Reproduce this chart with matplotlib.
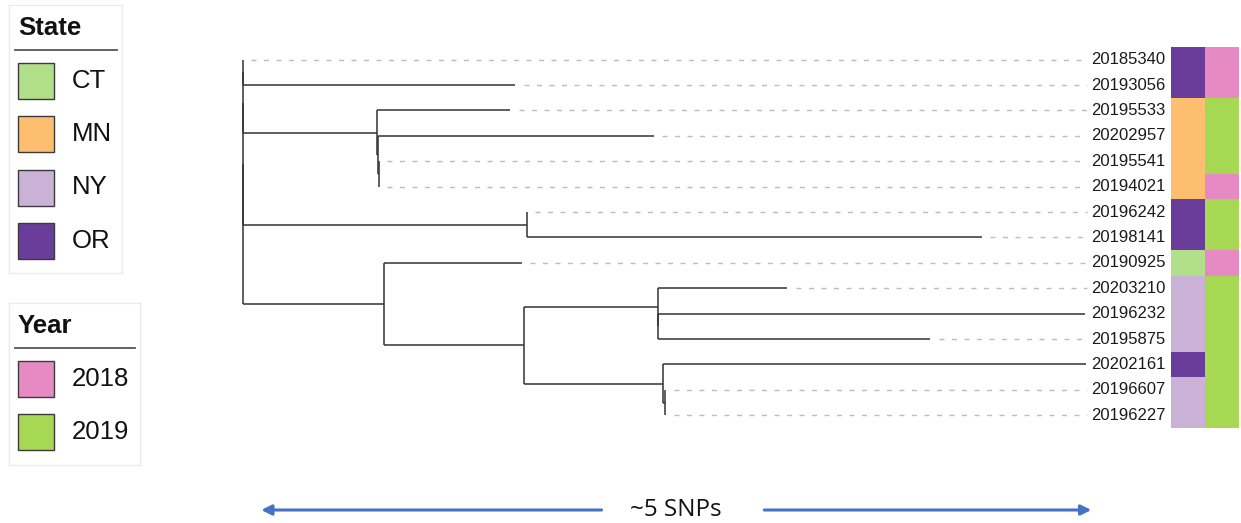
import matplotlib
matplotlib.use("Agg")
import matplotlib.pyplot as plt
from matplotlib.patches import Rectangle
from matplotlib.colors import to_rgb
from matplotlib.transforms import blended_transform_factory
import numpy as np

# tree topology and branch lengths (SNP-ish units)
newick = ("((((20185340:0,20193056:1.64):0,"
          "(20195533:0.80,(20202957:1.66,(20195541:0,20194021:0):0.005):0.005):0.81):0,"
          "(20196242:0,20198141:2.74):1.71):0,"
          "(20190925:0.83,((20203210:0.78,(20196232:2.57,20195875:1.64):0):0.81,"
          "(20202161:2.55,(20196607:0,20196227:0):0.015):0.84):0.84):0.85);")

tips = ["20185340", "20193056", "20195533", "20202957", "20195541",
        "20194021", "20196242", "20198141", "20190925", "20203210",
        "20196232", "20195875", "20202161", "20196607", "20196227"]
state = ["OR", "OR", "MN", "MN", "MN", "MN", "OR", "OR", "CT",
         "NY", "NY", "NY", "OR", "NY", "NY"]
year = ["2018", "2018", "2019", "2019", "2019", "2018", "2019", "2019",
        "2018", "2019", "2019", "2019", "2019", "2019", "2019"]

state_names = ["CT", "MN", "NY", "OR"]
state_colors = ["#b2df8a", "#fdbf6f", "#cab2d6", "#6a3d9a"]
year_names = ["2018", "2019"]
year_colors = ["#e78ac3", "#a6d854"]

scale_snps = 5
scale_start = 0.11

W, H = 1241, 523


def parse(s):
    pos = 0

    def node():
        nonlocal pos
        kids = []
        if s[pos] == "(":
            pos += 1
            while True:
                kids.append(node())
                if s[pos] == ",":
                    pos += 1
                    continue
                pos += 1
                break
        start = pos
        while s[pos] not in ",);":
            pos += 1
        name, _, ln = s[start:pos].partition(":")
        return {"name": name, "len": float(ln or 0), "kids": kids}

    return node()


def layout(nd, px, order):
    nd["px"] = px
    nd["x"] = px + nd["len"]
    if not nd["kids"]:
        nd["y"] = order.index(nd["name"])
    else:
        for k in nd["kids"]:
            layout(k, nd["x"], order)
        nd["y"] = np.mean([k["y"] for k in nd["kids"]])


def walk(nd):
    yield nd
    for k in nd["kids"]:
        yield from walk(k)


def fax(x, y, w, h):
    # pixel box -> figure fraction
    return [x / W, 1 - (y + h) / H, w / W, h / H]


root = parse(newick)
layout(root, 0.0, tips)

fig = plt.figure(figsize=(W / 100, H / 100), dpi=100)

px_per_unit = 166
tree_left, tree_right = 243, 1089
top, bottom = 47, 428
ax = fig.add_axes(fax(tree_left, top, tree_right - tree_left, bottom - top))
xmax = (tree_right - tree_left) / px_per_unit
ax.set_xlim(0, xmax)
ax.set_ylim(len(tips) - 0.5, -0.5)
ax.axis("off")

line_kw = dict(color="#333333", lw=1.1, solid_capstyle="butt", clip_on=False)
dash_end = xmax - 0.015
for nd in walk(root):
    if nd["kids"]:
        ys = [k["y"] for k in nd["kids"]]
        ax.plot([nd["x"], nd["x"]], [min(ys), max(ys)], **line_kw)
    if nd is not root and nd["len"] > 0:
        ax.plot([nd["px"], nd["x"]], [nd["y"], nd["y"]], **line_kw)
    if not nd["kids"]:
        if nd["x"] < dash_end - 0.05:
            ax.plot([nd["x"] + 0.05, dash_end], [nd["y"], nd["y"]],
                    color="#bcbcbc", lw=1.0, ls=(0, (3.6, 5.4)), clip_on=False)
        ax.text(xmax + 0.01, nd["y"], nd["name"], ha="left", va="center",
                fontsize=12, family="Liberation Sans", color="#1a1a1a")

# metadata heatmap
hm = fig.add_axes(fax(1171, top, 68, bottom - top))
smap = dict(zip(state_names, state_colors))
ymap = dict(zip(year_names, year_colors))
img = np.array([[to_rgb(smap[s]), to_rgb(ymap[y])] for s, y in zip(state, year)])
hm.imshow(img, aspect="auto", interpolation="nearest",
          extent=(-0.5, 1.5, len(tips) - 0.5, -0.5))
hm.axis("off")

# scale arrow under the tree
mid = scale_start + scale_snps / 2
ay = (H - 510) / H
btr = blended_transform_factory(ax.transData, fig.transFigure)
arr = dict(arrowstyle="-|>,head_length=0.6,head_width=0.3", color="#4472c4",
           lw=2.2, shrinkA=0, shrinkB=0)
ax.annotate("", xy=(scale_start, ay), xytext=(mid - 0.45, ay),
            xycoords=btr, textcoords=btr, arrowprops=arr)
ax.annotate("", xy=(scale_start + scale_snps, ay), xytext=(mid + 0.53, ay),
            xycoords=btr, textcoords=btr, arrowprops=arr)
ax.text(mid, ay, "~%d SNPs" % scale_snps, transform=btr, ha="center",
        va="center", fontsize=17.5, family="Open Sans", color="#111111")


def legend_box(x, y, w, h, title, names, colors):
    lg = fig.add_axes(fax(x, y, w, h))
    lg.set_xlim(0, w)
    lg.set_ylim(h, 0)
    lg.set_xticks([])
    lg.set_yticks([])
    for sp in lg.spines.values():
        sp.set_color("#ebebeb")
        sp.set_linewidth(1.0)
    lg.text(9, 30, title, fontsize=18.5, fontweight="bold",
            family="Liberation Sans", va="baseline", color="#111111")
    lg.plot([6, w - 5], [45, 45], color="#555555", lw=1.3)
    for i, (nm, c) in enumerate(zip(names, colors)):
        y0 = 57.5 + i * 53.5
        lg.add_patch(Rectangle((9, y0), 36, 36, facecolor=c,
                               edgecolor="#3a3a3a", lw=1.0))
        lg.text(63, y0 + 18, nm, fontsize=18.5, family="Liberation Sans",
                va="center", color="#111111")


legend_box(9, 5, 113, 268, "State", state_names, state_colors)
legend_box(9, 303, 131, 162, "Year", year_names, year_colors)

fig.savefig("out.png", dpi=100)
